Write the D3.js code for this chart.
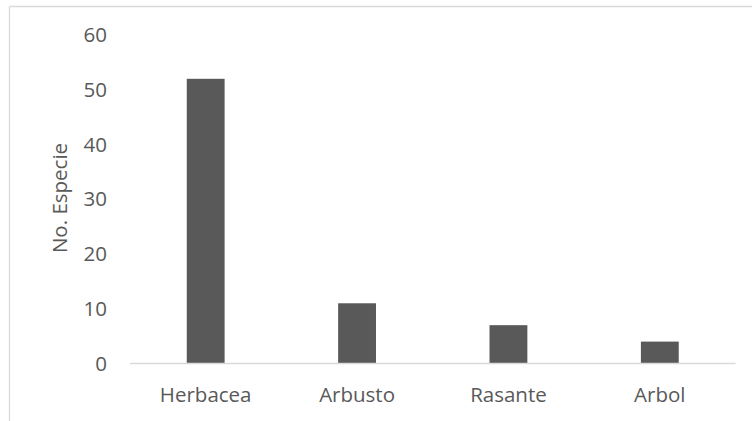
<!DOCTYPE html>
<html><head><meta charset="utf-8">
<script src="https://cdn.jsdelivr.net/npm/d3@7/dist/d3.min.js"></script>
<style>body{margin:0;background:#fff}svg{display:block}text{font-family:"Open Sans",sans-serif;fill:#595959}</style>
</head><body>
<svg id="c" width="752" height="421"></svg>
<script>
const categories = ["Herbacea","Arbusto","Rasante","Arbol"];
const values = [52, 11, 7, 4];
const yTicks = [0,10,20,30,40,50,60];
const yLabel = "No. Especie";

const svg = d3.select("#c");
// chart frame (cropped: left and top visible)
svg.append("line").attr("x1",9.5).attr("x2",9.5).attr("y1",6.5).attr("y2",421).attr("stroke","#d9d9d9").attr("stroke-width",1.3);
svg.append("line").attr("x1",9.5).attr("x2",752).attr("y1",6.5).attr("y2",6.5).attr("stroke","#d9d9d9").attr("stroke-width",1.3);

const x = d3.scaleBand().domain(categories).range([130,735.5]).paddingInner(0.75).paddingOuter(0.375);
const y = d3.scaleLinear().domain([0,60]).range([363.5,35]);

svg.selectAll("rect.bar").data(values).enter().append("rect").attr("class","bar")
  .attr("x",(d,i)=>x(categories[i])).attr("width",x.bandwidth())
  .attr("y",d=>y(d)).attr("height",d=>y(0)-y(d)).attr("fill","#595959");

svg.append("line").attr("x1",130).attr("x2",735.5).attr("y1",y(0)).attr("y2",y(0)).attr("stroke","#d9d9d9").attr("stroke-width",1.3);

const fs = "20.5px";
svg.selectAll("text.yt").data(yTicks).enter().append("text").attr("class","yt")
  .attr("x",107).attr("y",d=>y(d)).attr("dy","0.35em").attr("text-anchor","end")
  .style("font-size",fs).text(d=>d);

svg.selectAll("text.xt").data(categories).enter().append("text").attr("class","xt")
  .attr("x",d=>x(d)+x.bandwidth()/2).attr("y",395).attr("dy","0.35em").attr("text-anchor","middle")
  .style("font-size",fs).text(d=>d);

svg.append("text").attr("transform","translate(60,198) rotate(-90)").attr("dy","0.35em")
  .attr("text-anchor","middle").style("font-size",fs).text(yLabel);
</script>
</body></html>
